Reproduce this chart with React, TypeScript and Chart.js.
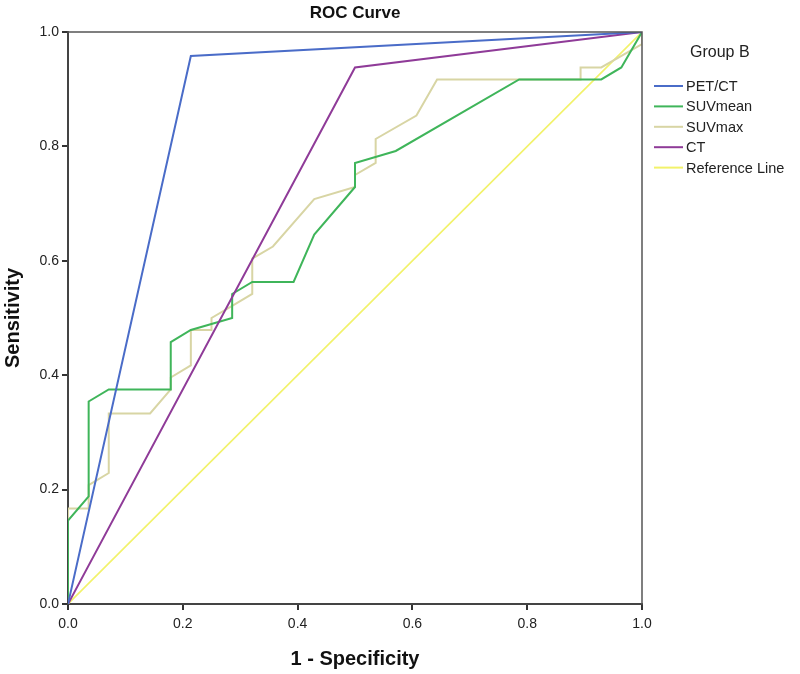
import React, { useEffect, useRef } from "react";
import { Chart, registerables } from "chart.js";

Chart.register(...registerables);

// ROC points (1 - Specificity on x, Sensitivity on y)
const petctX = [0, 0.214, 1];
const petctY = [0, 0.958, 1];

const suvMeanX = [0, 0, 0.036, 0.036, 0.071, 0.179, 0.179, 0.214, 0.286, 0.286, 0.321, 0.393, 0.429, 0.5, 0.5, 0.571, 0.786, 0.929, 0.964, 1];
const suvMeanY = [0, 0.146, 0.188, 0.354, 0.375, 0.375, 0.458, 0.479, 0.5, 0.542, 0.563, 0.563, 0.646, 0.729, 0.771, 0.792, 0.917, 0.917, 0.938, 1];

const suvMaxX = [0, 0, 0.036, 0.036, 0.071, 0.071, 0.143, 0.179, 0.179, 0.214, 0.214, 0.25, 0.25, 0.286, 0.321, 0.321, 0.357, 0.429, 0.5, 0.5, 0.536, 0.536, 0.607, 0.643, 0.893, 0.893, 0.929, 1, 1];
const suvMaxY = [0, 0.167, 0.167, 0.208, 0.229, 0.333, 0.333, 0.375, 0.396, 0.417, 0.479, 0.479, 0.5, 0.521, 0.542, 0.604, 0.625, 0.708, 0.729, 0.75, 0.771, 0.813, 0.854, 0.917, 0.917, 0.938, 0.938, 0.979, 1];

const ctX = [0, 0.5, 1];
const ctY = [0, 0.938, 1];

const refX = [0, 1];
const refY = [0, 1];

const tickValues = [0, 0.2, 0.4, 0.6, 0.8, 1.0];

const seriesNames = ["PET/CT", "SUVmean", "SUVmax", "CT", "Reference Line"];
const seriesColors = ["#4a6cc8", "#3fb55a", "#d8d5a4", "#8f3b98", "#f2f26a"];

const legendTitle = "Group B";
const chartTitle = "ROC Curve";

const pts = (xs: number[], ys: number[]) => xs.map((x, i) => ({ x, y: ys[i] }));

const FONT = "'Liberation Sans', Arial, sans-serif";

const overlayPlugin = {
  id: "overlay",
  afterDraw(chart: any) {
    const { ctx, chartArea } = chart;
    ctx.save();
    // box top and right
    ctx.strokeStyle = "#555";
    ctx.lineWidth = 1.5;
    ctx.beginPath();
    ctx.moveTo(chartArea.left, chartArea.top);
    ctx.lineTo(chartArea.right, chartArea.top);
    ctx.lineTo(chartArea.right, chartArea.bottom);
    ctx.stroke();

    // title
    ctx.fillStyle = "#111";
    ctx.font = `bold 17px ${FONT}`;
    ctx.textAlign = "center";
    ctx.textBaseline = "middle";
    ctx.fillText(chartTitle, (chartArea.left + chartArea.right) / 2, 13);

    // legend
    ctx.font = `16px ${FONT}`;
    ctx.textAlign = "left";
    ctx.fillStyle = "#222";
    ctx.fillText(legendTitle, 690, 53);
    ctx.font = `14.5px ${FONT}`;
    seriesNames.forEach((name, i) => {
      const y = 86 + i * 20.4;
      ctx.strokeStyle = seriesColors[i];
      ctx.lineWidth = 2;
      ctx.beginPath();
      ctx.moveTo(654, y);
      ctx.lineTo(683, y);
      ctx.stroke();
      ctx.fillStyle = "#222";
      ctx.fillText(name, 686, y + 1);
    });
    ctx.restore();
  },
};

export default function App() {
  const ref = useRef<HTMLCanvasElement>(null);
  useEffect(() => {
    if (!ref.current) return;
    const data = [
      pts(petctX, petctY),
      pts(suvMeanX, suvMeanY),
      pts(suvMaxX, suvMaxY),
      pts(ctX, ctY),
      pts(refX, refY),
    ];
    const orders = [0, 2, 3, 1, 4];
    const chart = new Chart(ref.current, {
      type: "scatter",
      data: {
        datasets: seriesNames.map((name, i) => ({
          label: name,
          data: data[i],
          showLine: true,
          borderColor: seriesColors[i],
          backgroundColor: seriesColors[i],
          borderWidth: i === 4 ? 1.6 : 2,
          pointRadius: 0,
          tension: 0,
          order: orders[i],
        })),
      },
      options: {
        animation: false,
        responsive: false,
        maintainAspectRatio: false,
        layout: { padding: { top: 32, right: 158, left: 0, bottom: 0 } },
        plugins: {
          legend: { display: false },
          tooltip: { enabled: false },
        },
        scales: {
          x: {
            type: "linear",
            min: 0,
            max: 1,
            afterBuildTicks: (s: any) => {
              s.ticks = tickValues.map((v) => ({ value: v }));
            },
            afterFit: (s: any) => {
              s.height = 70;
            },
            ticks: {
              callback: (v: any) => Number(v).toFixed(1),
              font: { family: FONT, size: 14 },
              color: "#222",
              padding: 6,
              maxRotation: 0,
            },
            grid: { drawOnChartArea: false, drawTicks: true, tickLength: 6, color: "#333", lineWidth: 2 },
            border: { display: true, color: "#444", width: 2 },
            title: {
              display: true,
              text: "1 - Specificity",
              font: { family: FONT, size: 20, weight: "bold" },
              color: "#111",
              padding: { top: 0, bottom: 3 },
            },
          },
          y: {
            type: "linear",
            min: 0,
            max: 1,
            afterBuildTicks: (s: any) => {
              s.ticks = tickValues.map((v) => ({ value: v }));
            },
            afterFit: (s: any) => {
              s.width = 68;
            },
            ticks: {
              callback: (v: any) => Number(v).toFixed(1),
              font: { family: FONT, size: 14 },
              color: "#222",
              padding: 3,
            },
            grid: { drawOnChartArea: false, drawTicks: true, tickLength: 6, color: "#333", lineWidth: 2 },
            border: { display: true, color: "#444", width: 2 },
            title: {
              display: true,
              text: "Sensitivity",
              font: { family: FONT, size: 20, weight: "bold" },
              color: "#111",
              padding: { top: 1, bottom: 0 },
            },
          },
        },
      },
      plugins: [overlayPlugin],
    } as any);
    return () => chart.destroy();
  }, []);
  return (
    <div style={{ position: "fixed", left: 0, top: 0, width: 800, height: 674, background: "#fff" }}>
      <canvas ref={ref} width={800} height={674} style={{ width: 800, height: 674 }} />
    </div>
  );
}
